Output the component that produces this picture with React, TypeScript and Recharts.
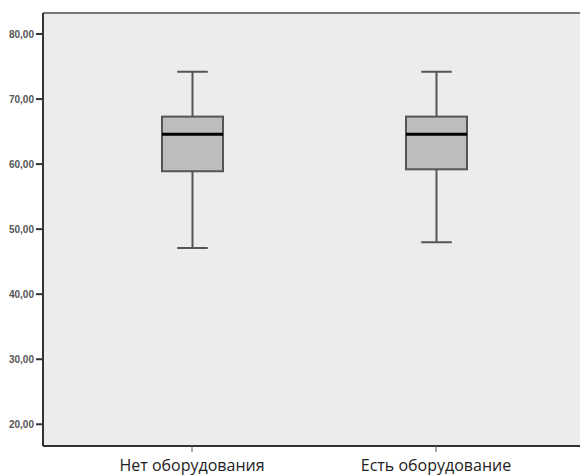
import React from "react";
import { ComposedChart, Bar, XAxis, YAxis, CartesianGrid, ReferenceLine } from "recharts";

const categories = ["Нет оборудования", "Есть оборудование"];
const whiskerLow = [47.1, 48.0];
const q1 = [58.9, 59.2];
const median = [64.6, 64.6];
const q3 = [67.3, 67.3];
const whiskerHigh = [74.2, 74.2];
const yTicks = [20, 30, 40, 50, 60, 70, 80];
const yDomain: [number, number] = [16.66, 83.23];

const data = categories.map((name, i) => ({
  name,
  range: [whiskerLow[i], whiskerHigh[i]],
  lo: whiskerLow[i],
  q1: q1[i],
  med: median[i],
  q3: q3[i],
  hi: whiskerHigh[i],
}));

const BoxShape = (props: any) => {
  const { x, y, width, height, payload } = props;
  const top = Math.min(y, y + height);
  const h = Math.abs(height);
  const ppu = h / (payload.hi - payload.lo);
  const py = (v: number) => top + (payload.hi - v) * ppu;
  const cx = x + width / 2;
  const capW = width / 2;
  const stroke = "#555";
  return (
    <g>
      <line x1={cx} x2={cx} y1={py(payload.hi)} y2={py(payload.q3)} stroke={stroke} strokeWidth={2} />
      <line x1={cx} x2={cx} y1={py(payload.q1)} y2={py(payload.lo)} stroke={stroke} strokeWidth={2} />
      <line x1={cx - capW / 2} x2={cx + capW / 2} y1={py(payload.hi)} y2={py(payload.hi)} stroke={stroke} strokeWidth={2} />
      <line x1={cx - capW / 2} x2={cx + capW / 2} y1={py(payload.lo)} y2={py(payload.lo)} stroke={stroke} strokeWidth={2} />
      <rect x={x} y={py(payload.q3)} width={width} height={py(payload.q1) - py(payload.q3)} fill="#bdbdbd" stroke={stroke} strokeWidth={2} />
      <line x1={x} x2={x + width} y1={py(payload.med)} y2={py(payload.med)} stroke="#000" strokeWidth={3} />
    </g>
  );
};

export default function App() {
  React.useEffect(() => {
    document.body.style.margin = "0";
  }, []);
  return (
    <div style={{ width: 580, height: 475, background: "#fff" }}>
      <style>{"body{margin:0}"}</style>
      <ComposedChart width={580} height={475} data={data} margin={{ top: 13, right: 0, bottom: 0, left: 0 }}>
        <CartesianGrid horizontal={false} vertical={false} fill="#ececec" />
        <XAxis
          dataKey="name"
          type="category"
          padding={{ left: 27, right: 22 }}
          height={29}
          tickSize={6}
          tickMargin={8}
          axisLine={{ stroke: "#333", strokeWidth: 2 }}
          tickLine={{ stroke: "#555", strokeWidth: 1 }}
          tick={{ fill: "#222", fontSize: 16, fontFamily: "Open Sans" }}
        />
        <YAxis
          type="number"
          domain={yDomain}
          ticks={yTicks}
          allowDataOverflow
          width={43}
          tickSize={7}
          tickMargin={2}
          axisLine={{ stroke: "#333", strokeWidth: 2 }}
          tickLine={{ stroke: "#333", strokeWidth: 2 }}
          tickFormatter={(v: number) => v.toFixed(2).replace(".", ",")}
          tick={{ fill: "#555", fontSize: 10, fontWeight: "bold", fontFamily: "Liberation Sans" }}
        />
        <ReferenceLine y={yDomain[1]} stroke="#777" strokeWidth={2} />
        <Bar dataKey="range" barSize={61} shape={<BoxShape />} isAnimationActive={false} />
      </ComposedChart>
    </div>
  );
}
